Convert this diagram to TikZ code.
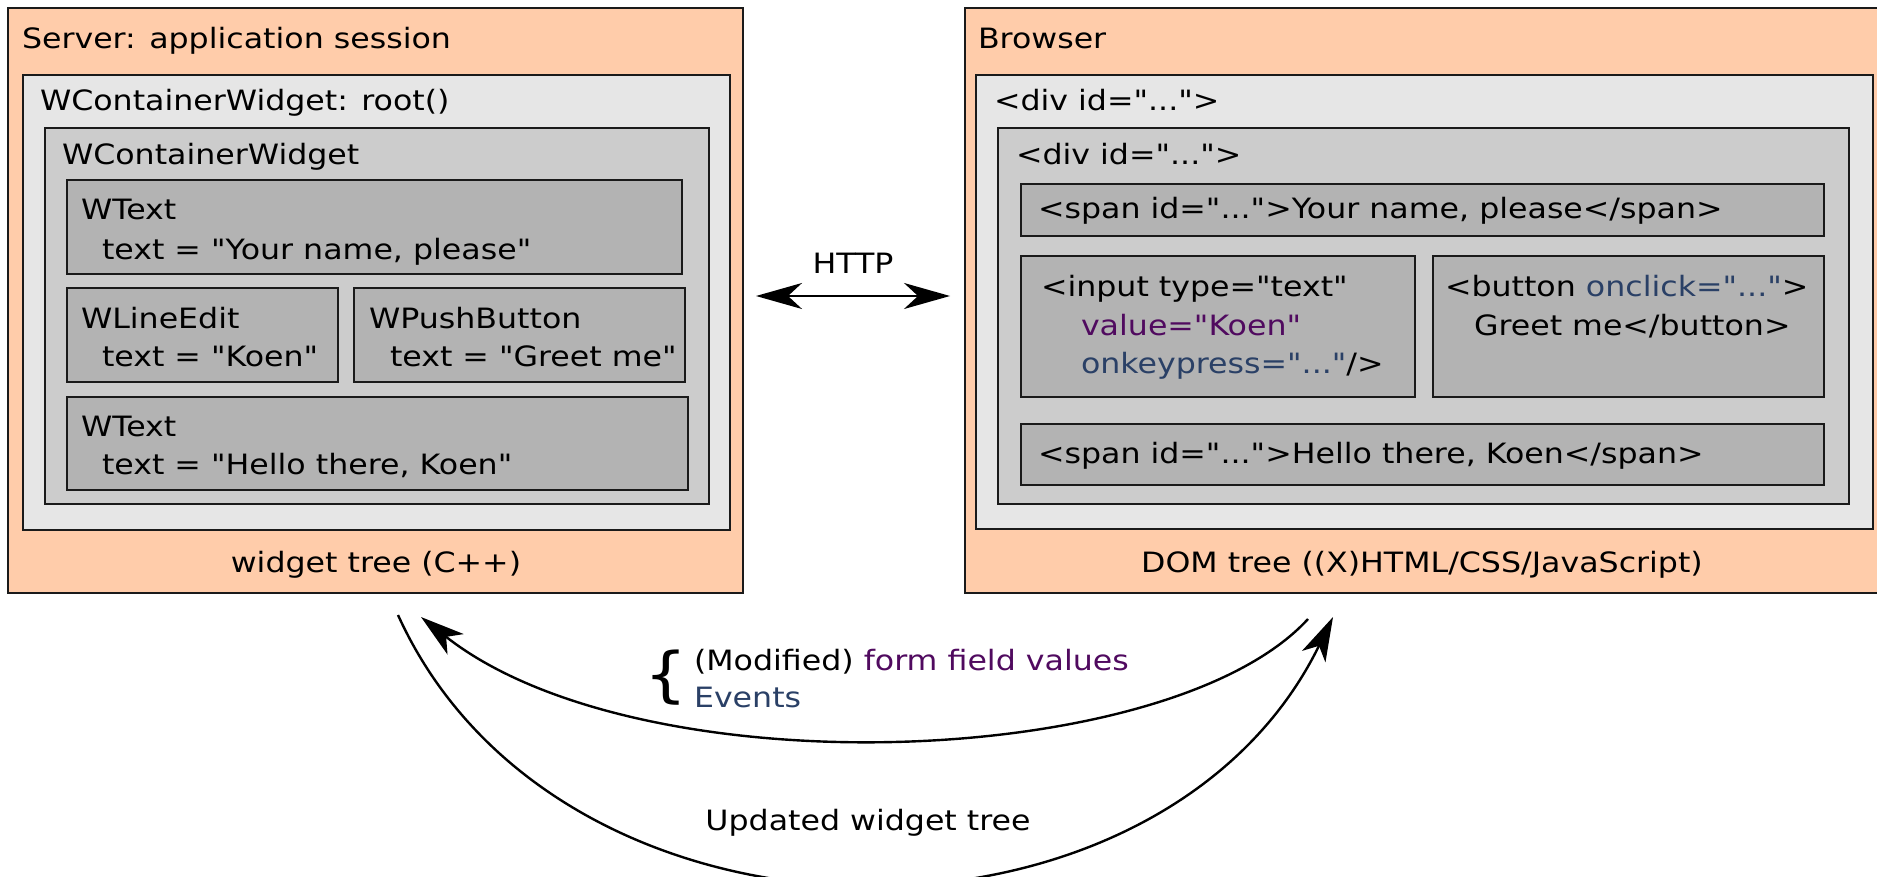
\documentclass[tikz,border=0pt]{standalone}
\usepackage{fontspec}
\newfontfamily\dejavu{DejaVu Sans}[FakeStretch=1.13]
\usetikzlibrary{arrows.meta,fit}
\definecolor{peach}{HTML}{FFCCAA}
\definecolor{grayA}{HTML}{E6E6E6}
\definecolor{grayB}{HTML}{CCCCCC}
\definecolor{grayC}{HTML}{B3B3B3}
\definecolor{edge}{HTML}{1A1A1A}
\definecolor{attrval}{RGB}{80,10,95}
\definecolor{attrev}{RGB}{42,64,102}
\begin{document}
\begin{tikzpicture}[x=0.5pt,y=-0.5pt,
  every node/.style={font=\dejavu\fontsize{14}{19}\selectfont, inner sep=0pt, outer sep=0pt},
  frame/.style={draw=edge, line width=1pt, inner sep=0pt, fit={#1}},
  lbl/.style={anchor=base west},
  ctr/.style={anchor=base},
  tip/.style={-{Stealth[length=22pt,width=13pt,inset=6pt]}},
  flow/.style={line width=1.2pt, tip}]
\clip (0,0) rectangle (1877,877);

% ---------- server side: widget tree ----------
\node[frame={(8,8) (743,593)}, fill=peach] (server) {};
\node[frame={(23,75) (730,530)}, fill=grayA] (root) {};
\node[frame={(45,128) (709,504)}, fill=grayB] (cont) {};
\node[frame={(67,180) (682,274)}, fill=grayC] (wtexta) {};
\node[frame={(67,288) (338,382)}, fill=grayC] (wedit) {};
\node[frame={(354,288) (685,382)}, fill=grayC] (wbutton) {};
\node[frame={(67,397) (688,490)}, fill=grayC] (wtextb) {};

\node[lbl] (servert) at (22,49) {Server: application session};
\node[lbl] (roott) at (40,111) {WContainerWidget: root()};
\node[lbl] (contt) at (62,165) {WContainerWidget};
\node[lbl] (wtextat) at (81,220) {WText};
\node[lbl] (wtextav) at (102,259) {text = "Your name, please"};
\node[lbl] (weditt) at (81,328) {WLineEdit};
\node[lbl] (weditv) at (102,366) {text = "Koen"};
\node[lbl] (wbuttont) at (369,328) {WPushButton};
\node[lbl] (wbuttonv) at (390,366) {text = "Greet me"};
\node[lbl] (wtextbt) at (81,436) {WText};
\node[lbl] (wtextbv) at (102,474) {text = "Hello there, Koen"};
\node[ctr] (servercap) at (376,572) {widget tree (C++)};

% ---------- browser side: DOM tree ----------
\node[frame={(965,8) (1900,593)}, fill=peach] (browser) {};
\node[frame={(976,75) (1873,529)}, fill=grayA] (diva) {};
\node[frame={(998,128) (1849,504)}, fill=grayB] (divb) {};
\node[frame={(1021,184) (1824,236)}, fill=grayC] (spana) {};
\node[frame={(1021,256) (1415,397)}, fill=grayC] (input) {};
\node[frame={(1433,256) (1824,397)}, fill=grayC] (button) {};
\node[frame={(1021,424) (1824,485)}, fill=grayC] (spanb) {};

\node[lbl] (browsert) at (978,49) {Browser};
\node[lbl] (divat) at (994,111) {<div id="...">};
\node[lbl] (divbt) at (1016,165) {<div id="...">};
\node[lbl] (spanat) at (1038,219) {<span id="...">Your name, please</span>};
\node[lbl] (inputa) at (1041,296) {<input type="text"};
\node[lbl] (inputb) at (1081,335) {\color{attrval}value="Koen"};
\node[lbl] (inputc) at (1081,373) {{\color{attrev}onkeypress="..."}/>};
\node[lbl] (buttona) at (1445,296) {<button {\color{attrev}onclick="..."}>};
\node[lbl] (buttonb) at (1474,335) {Greet me</button>};
\node[lbl] (spanbt) at (1038,463) {<span id="...">Hello there, Koen</span>};
\node[ctr] (browsercap) at (1422,572) {DOM tree ((X)HTML/CSS/JavaScript)};

% ---------- HTTP link ----------
\node[ctr] (http) at (853,273) {HTTP};
\coordinate (httpl) at (756,296);
\coordinate (httpr) at (950,296);
\draw[line width=1pt, {Stealth[length=23pt,width=13pt,inset=7pt]}-{Stealth[length=23pt,width=13pt,inset=7pt]}] (httpl) -- (httpr);

% ---------- request / response cycle ----------
\coordinate (reqs) at (1308,619);
\coordinate (reqe) at (421,617);
\coordinate (resps) at (398,615);
\coordinate (respe) at (1333,617);
\draw[flow] (reqs) .. controls (1170,770) and (640,790) .. (reqe);
\draw[flow] (resps) .. controls (560,972) and (1160,972) .. (respe);

\node[font=\dejavu\fontsize{30}{30}\selectfont] (brace) at (666,678) {\{};
\node[lbl] (reqa) at (694,670) {(Modified) {\color{attrval}form field values}};
\node[lbl, text=attrev] (reqb) at (694,707) {Events};
\node[ctr] (resp) at (868,830) {Updated widget tree};
\end{tikzpicture}
\end{document}
